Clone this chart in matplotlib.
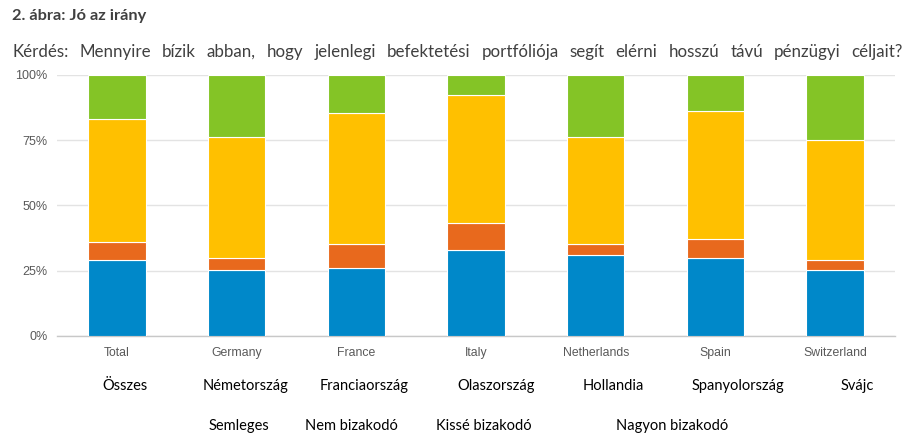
import matplotlib
matplotlib.use("Agg")
import matplotlib.pyplot as plt
import numpy as np

# data (percent of answers)
countries = ["Total", "Germany", "France", "Italy", "Netherlands", "Spain", "Switzerland"]
countries_hu = ["Összes", "Németország", "Franciaország", "Olaszország", "Hollandia", "Spanyolország", "Svájc"]
series_hu = ["Semleges", "Nem bizakodó", "Kissé bizakodó", "Nagyon bizakodó"]
semleges = [29.1, 25.3, 26.2, 33.0, 31.0, 30.0, 25.3]
nem_bizakodo = [6.9, 4.5, 8.9, 10.2, 4.4, 7.2, 3.8]
kisse_bizakodo = [47.1, 46.6, 50.5, 49.1, 41.0, 49.0, 46.0]
nagyon_bizakodo = [16.9, 23.6, 14.4, 7.7, 23.6, 13.8, 24.9]
colors = ["#0088c9", "#e8691d", "#ffc000", "#84c426"]

title = "2. ábra: Jó az irány"
question = "Kérdés: Mennyire bízik abban, hogy jelenlegi befektetési portfóliója segít elérni hosszú távú pénzügyi céljait?"

W, H = 913, 446
fig = plt.figure(figsize=(W / 100, H / 100), dpi=100)
fig.patch.set_facecolor("white")

ax = fig.add_axes([57 / W, (H - 336) / H, 838 / W, 261 / H])
x = np.arange(len(countries))
bottom = np.zeros(len(countries))
for vals, col in zip([semleges, nem_bizakodo, kisse_bizakodo, nagyon_bizakodo], colors):
    ax.bar(x, vals, width=0.48, bottom=bottom, color=col, edgecolor="white", linewidth=0.8, zorder=3)
    bottom += np.array(vals)

ax.set_xlim(-0.5, 6.5)
ax.set_ylim(0, 100)
ax.set_yticks([0, 25, 50, 75, 100])
ax.set_yticklabels(["0%", "25%", "50%", "75%", "100%"], fontsize=9, color="#595959", family="Liberation Sans")
ax.set_xticks(x)
ax.set_xticklabels(countries, fontsize=8.8, color="#595959", family="Liberation Sans")
ax.tick_params(axis="both", length=0)
ax.tick_params(axis="x", pad=8)
ax.tick_params(axis="y", pad=7)
ax.grid(axis="y", color="#e3e3e3", linewidth=1, zorder=0)
for s in ["left", "right", "top"]:
    ax.spines[s].set_visible(False)
ax.spines["bottom"].set_color("#c8c8c8")
ax.spines["bottom"].set_linewidth(1)
ax.set_axisbelow(True)

font = ["Lato", "DejaVu Sans"]

fig.text(12 / W, 1 - 20 / H, title, fontsize=11.8, fontweight="bold", color="#404040",
         family=font, ha="left", va="baseline")

# justified question line between x=12 and x=903
fig.canvas.draw()
renderer = fig.canvas.get_renderer()
words = question.split(" ")
texts = [fig.text(0, 1 - 57 / H, w, fontsize=12.2, color="#404040", family=font,
                  ha="left", va="baseline") for w in words]
widths = [t.get_window_extent(renderer).width for t in texts]
gap = (903 - 12 - sum(widths)) / (len(words) - 1)
xpos = 12
for t, wd in zip(texts, widths):
    t.set_x(xpos / W)
    xpos += wd + gap

# Hungarian country names under the chart
hu_x = [125, 246, 364, 496, 613, 738, 857]
for name, px in zip(countries_hu, hu_x):
    fig.text(px / W, 1 - 390 / H, name, fontsize=10.5, color="black", family=font,
             ha="center", va="baseline")

# Hungarian series names
leg_x = [239, 351, 484, 672]
for name, px in zip(series_hu, leg_x):
    fig.text(px / W, 1 - 430 / H, name, fontsize=10.5, color="black", family=font,
             ha="center", va="baseline")

fig.savefig("out.png", dpi=100, facecolor="white")
